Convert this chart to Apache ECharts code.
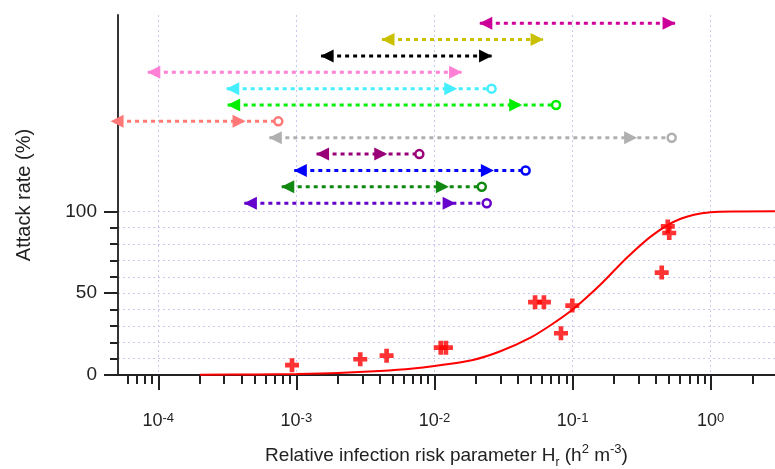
<!DOCTYPE html>
<html>
<head>
<meta charset="utf-8">
<script src="https://cdn.jsdelivr.net/npm/echarts@6/dist/echarts.min.js"></script>
<style>
  html, body { margin: 0; padding: 0; background: #fff; }
  #chart { width: 775px; height: 469px; }
</style>
</head>
<body>
<div id="chart"></div>
<script>
// fitted curve (H_r, attack rate %)
const curveH = [2.0e-4, 5e-4, 1e-3, 2e-3, 4e-3, 7e-3, 0.01, 0.019, 0.03, 0.05, 0.071, 0.1, 0.158, 0.246, 0.38, 0.6, 1.0, 1.6, 2.92]
const curveRate = [0.2, 0.3, 0.6, 1.2, 2.4, 3.9, 5.5, 9.2, 14.5, 23, 31, 40, 55, 71.5, 85.5, 95.3, 99.4, 99.9, 100]

// outbreaks
const pointH = [9.3e-4, 2.9e-3, 4.5e-3, 0.0111, 0.0121, 0.0535, 0.062, 0.0824, 0.0995, 0.442, 0.489, 0.501]
const pointRate = [6, 9.6, 11.8, 16.7, 16.7, 44.5, 44.5, 25.5, 42.4, 62.6, 90.8, 86.8]

// ranges drawn as arrows above the plot
const rowY = [215, 205, 195, 185, 175, 165, 155, 145, 135, 125, 115, 105]
const rowFrom = [0.0213, 4.17e-3, 1.51e-3, 8.4e-5, 3.13e-4, 3.18e-4, 4.55e-5, 6.37e-4, 1.40e-3, 9.66e-4, 7.83e-4, 4.20e-4]
const rowTo = [0.552, 0.0611, 0.0259, 0.0157, 0.0145, 0.0428, 4.25e-4, 0.291, 4.51e-3, 0.0267, 0.0126, 0.0141]
const rowEnd = [null, null, null, null, 0.0259, 0.0759, 7.40e-4, 0.522, 7.77e-3, 0.0457, 0.0220, 0.0239]
const rowColors = ['#cc0099', '#c8c000', '#000000', '#ff80d4', '#44eeff', '#00ee00', '#ff7777', '#b0b0b0', '#990077', '#0000ff', '#118811', '#6600cc']

// axis ticks
const decades = [1e-4, 1e-3, 1e-2, 1e-1, 1]
const minorMult = [2, 3, 4, 5, 6, 7, 8, 9]
const yMajor = [0, 50, 100]
const yMinor = [10, 20, 30, 40, 50, 60, 70, 80, 90, 100]

const xMin = 5.108e-5
const xMax = 2.922
const lg = v => Math.log10(v)

let xMinor = []
;[1e-5, 1e-4, 1e-3, 1e-2, 1e-1, 1].forEach(d => {
    minorMult.forEach(m => {
        const v = m * d
        if (v > xMin && v < xMax) xMinor.push(lg(v))
    })
})

const font = 'Liberation Sans, Arial, sans-serif'
const gridColor = '#c9c9ee'

const chart = echarts.init(document.getElementById('chart'))

const plus = 'path://M-2,-6H2V-2H6V2H2V6H-2V2H-6V-2H-2Z'

let series = [
    {
        type: 'line',
        data: curveH.map((h, i) => [lg(h), curveRate[i]]),
        smooth: 0.3,
        symbol: 'none',
        lineStyle: { color: '#ff0000', width: 2 },
        z: 3
    },
    {
        type: 'scatter',
        data: pointH.map((h, i) => [lg(h), pointRate[i]]),
        symbol: plus,
        symbolSize: 14,
        itemStyle: { color: '#ff0000' },
        z: 4
    }
]

rowY.forEach((y, i) => {
    const c = rowColors[i]
    let data = [
        { value: [lg(rowFrom[i]), y], symbol: 'triangle', symbolRotate: 90, symbolOffset: [6, 0], symbolSize: [13, 13] },
        { value: [lg(rowTo[i]), y], symbol: 'triangle', symbolRotate: -90, symbolOffset: [-6, 0], symbolSize: [13, 13] }
    ]
    if (rowEnd[i] != null) {
        data.push({
            value: [lg(rowEnd[i]), y], symbol: 'circle', symbolSize: 8,
            itemStyle: { color: '#fff', borderColor: c, borderWidth: 2.5 }
        })
    }
    series.push({
        type: 'line',
        data: data,
        clip: false,
        showSymbol: true,
        showAllSymbol: true,
        lineStyle: { color: c, width: 3, type: [4, 4] },
        itemStyle: { color: c, borderWidth: 0 },
        emphasis: { disabled: true },
        z: 5
    })
})

const option = {
    animation: false,
    textStyle: { fontFamily: font },
    grid: { left: 118, right: 0, top: 15, bottom: 94, outerBoundsMode: 'none', containLabel: false },
    xAxis: [
        {
            type: 'value',
            position: 'bottom',
            min: lg(xMin),
            max: lg(xMax),
            axisLine: { show: true, onZero: false, lineStyle: { color: '#222', width: 2 } },
            axisTick: { show: true, customValues: decades.map(lg), length: 15, lineStyle: { color: '#222', width: 2 } },
            axisLabel: {
                customValues: decades.map(lg),
                margin: 37,
                color: '#222',
                fontSize: 18,
                formatter: v => '10{sup|' + Math.round(v) + '}',
                rich: {
                    sup: { fontSize: 13, verticalAlign: 'top', lineHeight: 12, color: '#222' }
                }
            },
            splitLine: { show: true, lineStyle: { color: gridColor, width: 1, type: [2, 3] } },
            name: 'Relative infection risk parameter H{sub|r} (h{sup|2} m{sup|-3})',
            nameLocation: 'middle',
            nameGap: 68,
            nameTextStyle: {
                fontSize: 19,
                color: '#222',
                lineHeight: 26,
                rich: {
                    sub: { fontSize: 12, verticalAlign: 'bottom', lineHeight: 14, color: '#222' },
                    sup: { fontSize: 13, verticalAlign: 'top', lineHeight: 14, color: '#222' }
                }
            }
        },
        {
            type: 'value',
            position: 'bottom',
            min: lg(xMin),
            max: lg(xMax),
            axisLine: { show: false, onZero: false },
            axisTick: { show: true, customValues: xMinor, length: 9, lineStyle: { color: '#222', width: 2 } },
            axisLabel: { show: false },
            splitLine: { show: false }
        }
    ],
    yAxis: [
        {
            type: 'value',
            position: 'left',
            min: 0,
            max: 220,
            axisLine: { show: true, onZero: false, lineStyle: { color: '#333', width: 2 } },
            axisTick: { show: true, customValues: yMajor, length: 14, lineStyle: { color: '#222', width: 2 } },
            axisLabel: { customValues: yMajor, margin: 21, color: '#222', fontSize: 19 },
            splitLine: { show: false },
            name: 'Attack rate (%)',
            nameLocation: 'middle',
            nameGap: 84,
            nameTextStyle: { fontSize: 20, color: '#222' }
        },
        {
            type: 'value',
            position: 'left',
            min: 0,
            max: 220,
            axisLine: { show: false, onZero: false },
            axisTick: { show: true, customValues: yMinor, length: 8, lineStyle: { color: '#222', width: 2 } },
            axisLabel: { show: false },
            splitLine: { show: true, lineStyle: { color: gridColor, width: 1, type: [2, 3] } }
        }
    ],
    series: series
}

chart.setOption(option)
</script>
</body>
</html>
